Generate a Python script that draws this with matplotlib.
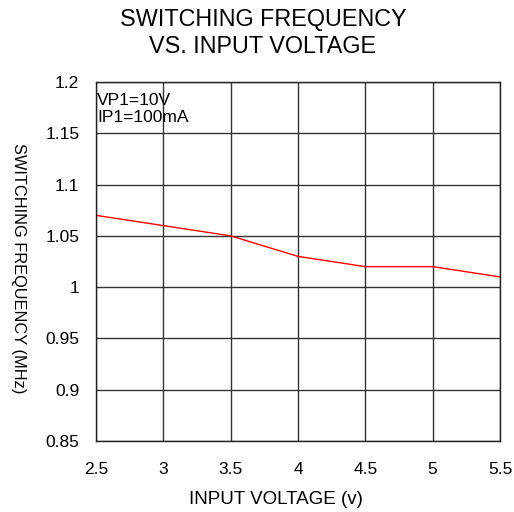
import matplotlib
matplotlib.use("Agg")
import matplotlib.pyplot as plt

voltage = [2.5, 3.0, 3.5, 4.0, 4.5, 5.0, 5.5]
frequency = [1.07, 1.06, 1.05, 1.03, 1.02, 1.02, 1.01]
xticks = [2.5, 3, 3.5, 4, 4.5, 5, 5.5]
xtick_labels = ["2.5", "3", "3.5", "4", "4.5", "5", "5.5"]
yticks = [0.85, 0.9, 0.95, 1.0, 1.05, 1.1, 1.15, 1.2]
ytick_labels = ["0.85", "0.9", "0.95", "1", "1.05", "1.1", "1.15", "1.2"]

plt.rcParams['font.family'] = ['Liberation Sans', 'DejaVu Sans']

fig = plt.figure(figsize=(5.14, 5.12), dpi=100)
ax = fig.add_axes([96/514, 1-441/512, 404/514, 359/512])

ax.plot(voltage, frequency, color='#ff0000', lw=1.0)
ax.set_xlim(2.5, 5.5)
ax.set_ylim(0.85, 1.2)
ax.set_xticks(xticks)
ax.set_xticklabels(xtick_labels, fontsize=12.5)
ax.set_yticks(yticks)
ax.set_yticklabels(ytick_labels, fontsize=12.5)
ax.grid(True, color='#333333', lw=1.0)
ax.tick_params(axis='x', length=0, pad=15)
ax.tick_params(axis='y', length=0, pad=12)
for s in ax.spines.values():
    s.set_color('#222222')
    s.set_linewidth(1.0)

ax.text(0.003, 0.968, "VP1=10V\nIP1=100mA", transform=ax.transAxes,
        ha='left', va='top', fontsize=12.5, linespacing=1.15)

fig.text(263/514, 1-33/512, "SWITCHING FREQUENCY\nVS. INPUT VOLTAGE",
         ha='center', va='center', fontsize=16.8, linespacing=1.2)
fig.text(276/514, 1-500/512, "INPUT VOLTAGE (v)", ha='center', va='center', fontsize=13.5)
fig.text(18/514, 1-268/512, "SWITCHING FREQUENCY (MHz)", ha='center', va='center',
         rotation=270, fontsize=11.8)

fig.savefig("out.png", dpi=100)
